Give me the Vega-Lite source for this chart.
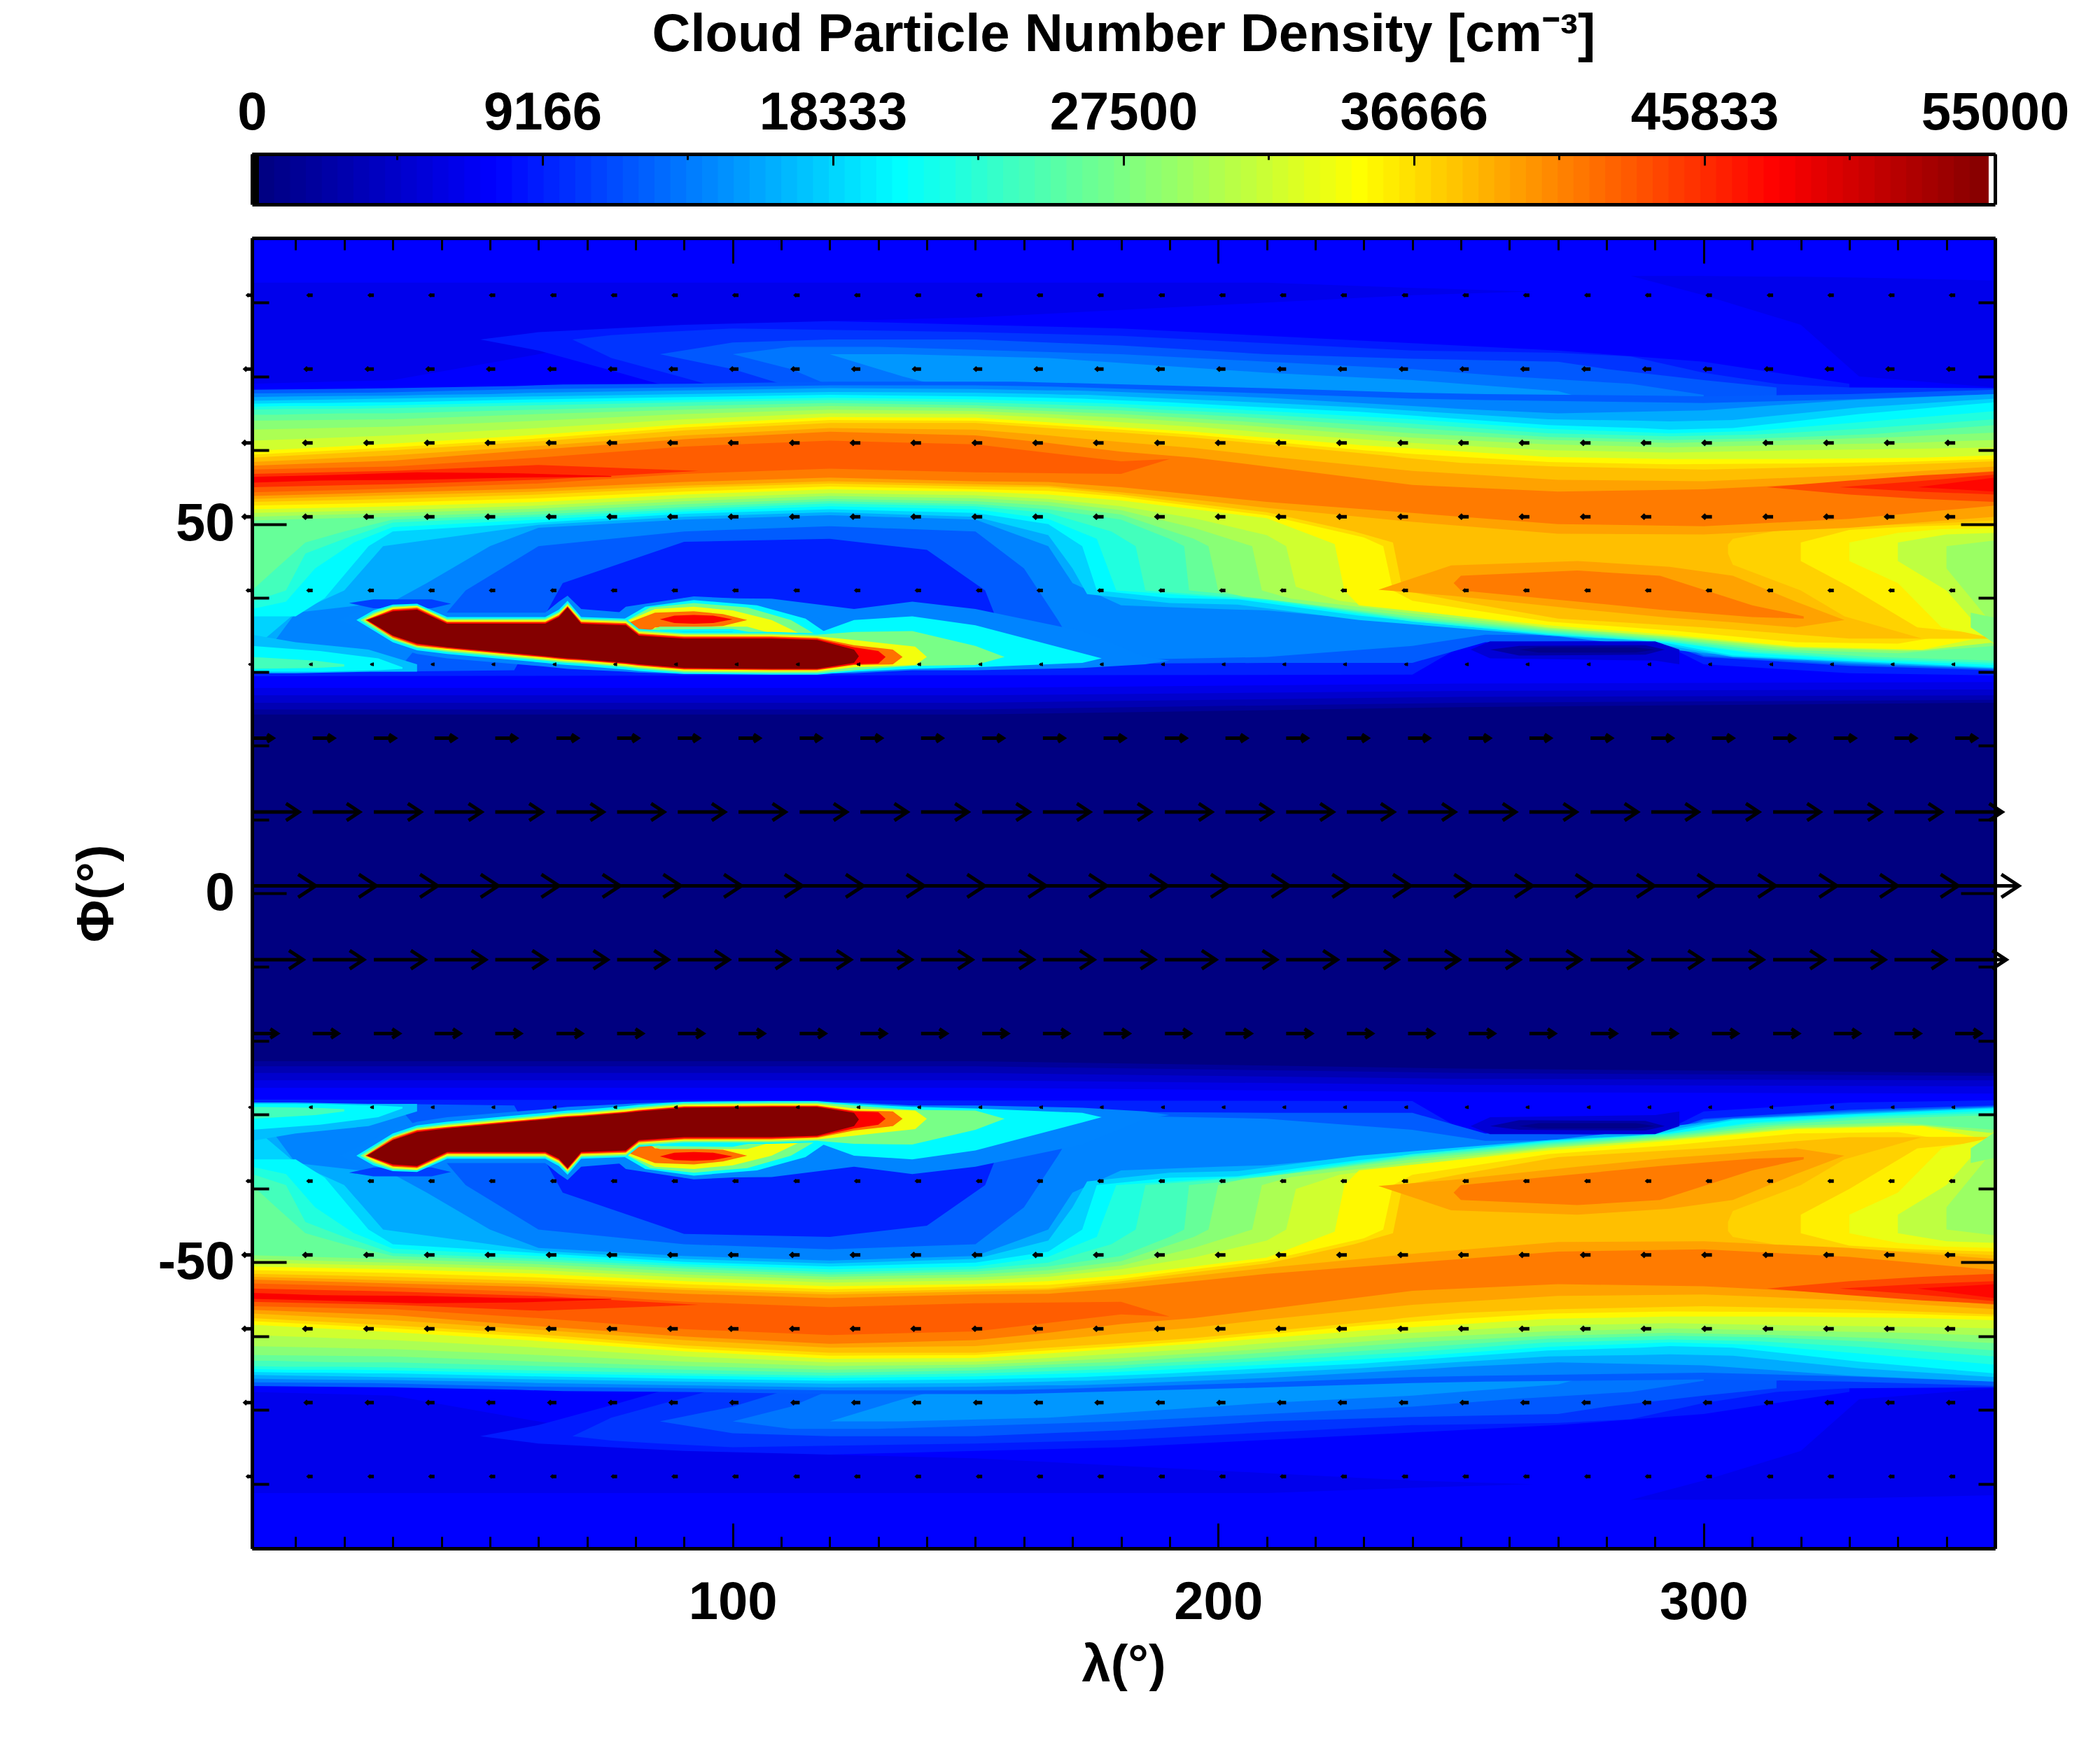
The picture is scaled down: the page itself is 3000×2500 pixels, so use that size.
{"$schema":"https://vega.github.io/schema/vega-lite/v6.json","background":"white","padding":{"left":102,"top":11,"right":0,"bottom":0},"spacing":43,
"config":{"view":{"stroke":null},"axis":{"grid":false,"labelFont":"Liberation Sans","titleFont":"Liberation Sans","labelFontWeight":"bold","titleFontWeight":"bold","labelFontSize":76,"titleFontSize":74,"labelColor":"black","titleColor":"black","tickColor":"black","domainColor":"black","domainWidth":5,"labelOverlap":false,"labelBound":false,"labelFlush":false,"labelLimit":1000,"format":"d"}},
"datasets":{
"bands":[
{"g":7400,"x":1,"a":91,"b":0.7},{"g":7400,"x":360,"a":91,"b":0.7},
{"g":6300,"x":1,"a":82.7,"b":69},{"g":6300,"x":30,"a":82.7,"b":69.5},{"g":6300,"x":60,"a":82.7,"b":73},{"g":6300,"x":90,"a":82.7,"b":76.5},{"g":6300,"x":120,"a":82.7,"b":77.5},{"g":6300,"x":150,"a":82.7,"b":78},{"g":6300,"x":180,"a":82.7,"b":79},{"g":6300,"x":210,"a":82.7,"b":80},{"g":6300,"x":240,"a":82,"b":81},{"g":6300,"x":265,"a":81.5,"b":81.5},
{"g":6301,"x":285,"a":83.6,"b":83.6},{"g":6301,"x":300,"a":83.6,"b":81},{"g":6301,"x":320,"a":83.5,"b":77},{"g":6301,"x":332,"a":83.4,"b":70},{"g":6301,"x":360,"a":83,"b":68.5},
{"g":8700,"x":48,"a":75,"b":75},{"g":8700,"x":60,"a":76,"b":73.5},{"g":8700,"x":75,"a":76.5,"b":70.8},{"g":8700,"x":90,"a":77,"b":68},{"g":8700,"x":120,"a":77.5,"b":68},{"g":8700,"x":150,"a":77,"b":68},{"g":8700,"x":180,"a":76.5,"b":68},{"g":8700,"x":210,"a":75.5,"b":68},{"g":8700,"x":240,"a":74.5,"b":68},{"g":8700,"x":270,"a":73.5,"b":67},{"g":8700,"x":300,"a":72,"b":67},{"g":8700,"x":315,"a":70.5,"b":67},{"g":8700,"x":330,"a":69,"b":67},
{"g":10000,"x":67,"a":75,"b":75},{"g":10000,"x":75,"a":75.6,"b":72.5},{"g":10000,"x":85,"a":76,"b":70.7},{"g":10000,"x":100,"a":76.5,"b":68},{"g":10000,"x":150,"a":76,"b":67},{"g":10000,"x":180,"a":75.5,"b":67},{"g":10000,"x":210,"a":74.5,"b":66},{"g":10000,"x":240,"a":73.5,"b":66},{"g":10000,"x":270,"a":73.2,"b":65},{"g":10000,"x":285,"a":72.7,"b":65},{"g":10000,"x":300,"a":70.5,"b":65},{"g":10000,"x":315,"a":69,"b":65},{"g":10000,"x":330,"a":68.5,"b":65},{"g":10000,"x":360,"a":68.4,"b":66},
{"g":11800,"x":85,"a":73,"b":73},{"g":11800,"x":100,"a":74.6,"b":71},{"g":11800,"x":120,"a":75,"b":67},{"g":11800,"x":150,"a":75,"b":66},{"g":11800,"x":180,"a":74.2,"b":66},{"g":11800,"x":210,"a":73,"b":65},{"g":11800,"x":240,"a":72.4,"b":65},{"g":11800,"x":270,"a":72,"b":64},{"g":11800,"x":280,"a":71,"b":64},{"g":11800,"x":300,"a":69.5,"b":64},{"g":11800,"x":315,"a":68.5,"b":64},
{"g":13300,"x":100,"a":73,"b":73},{"g":13300,"x":112,"a":74,"b":71},{"g":13300,"x":130,"a":74,"b":66},{"g":13300,"x":180,"a":73,"b":65},{"g":13300,"x":210,"a":72,"b":65},{"g":13300,"x":240,"a":71,"b":64},{"g":13300,"x":260,"a":70,"b":64},{"g":13300,"x":285,"a":69,"b":64},{"g":13300,"x":300,"a":67.5,"b":64},
{"g":15000,"x":120,"a":73,"b":73},{"g":15000,"x":135,"a":73,"b":70},{"g":15000,"x":165,"a":72.5,"b":65},{"g":15000,"x":210,"a":70.5,"b":65},{"g":15000,"x":240,"a":69.5,"b":64},{"g":15000,"x":270,"a":68,"b":64},{"g":15000,"x":287,"a":65,"b":65},
{"g":6000,"x":1,"a":27.8,"b":0.7},{"g":6000,"x":150,"a":27.8,"b":0.7},{"g":6000,"x":250,"a":28.4,"b":0.7},{"g":6000,"x":360,"a":28.6,"b":0.7},
{"g":4500,"x":1,"a":26.8,"b":0.7},{"g":4500,"x":150,"a":26.8,"b":0.7},{"g":4500,"x":250,"a":27.4,"b":0.7},{"g":4500,"x":360,"a":27.6,"b":0.7},
{"g":3000,"x":1,"a":25.8,"b":0.7},{"g":3000,"x":150,"a":25.8,"b":0.7},{"g":3000,"x":250,"a":26.6,"b":0.7},{"g":3000,"x":360,"a":26.8,"b":0.7},
{"g":1500,"x":1,"a":24.9,"b":0.7},{"g":1500,"x":150,"a":24.9,"b":0.7},{"g":1500,"x":250,"a":25.8,"b":0.7},{"g":1500,"x":360,"a":26.2,"b":0.7},
{"g":0,"x":1,"a":24.2,"b":0.7},{"g":0,"x":150,"a":24.2,"b":0.7},{"g":0,"x":250,"a":25.2,"b":0.7},{"g":0,"x":360,"a":25.8,"b":0.7},
{"g":9000,"x":1,"a":52,"b":29.4},{"g":9000,"x":240,"a":52,"b":29.6},{"g":9000,"x":252,"a":52,"b":34.2},{"g":9000,"x":290,"a":52,"b":34.3},{"g":9000,"x":300,"a":52,"b":31},{"g":9000,"x":330,"a":52,"b":29.8},{"g":9000,"x":360,"a":52,"b":29.5},
{"g":12000,"x":1,"a":68.2,"b":29.9},{"g":12000,"x":30,"a":68.4,"b":30},{"g":12000,"x":55,"a":68.7,"b":30.2},{"g":12000,"x":65,"a":68.9,"b":42},{"g":12000,"x":90,"a":69,"b":47.6},{"g":12000,"x":120,"a":69.3,"b":48},{"g":12000,"x":140,"a":69.3,"b":46.5},{"g":12000,"x":152,"a":69.3,"b":41},{"g":12000,"x":158,"a":69.3,"b":31},{"g":12000,"x":210,"a":68.4,"b":31.2},{"g":12000,"x":240,"a":67.8,"b":31.2},{"g":12000,"x":255,"a":67.6,"b":34},{"g":12000,"x":290,"a":67.4,"b":34.2},{"g":12000,"x":300,"a":67.3,"b":32},{"g":12000,"x":330,"a":67.6,"b":30.8},{"g":12000,"x":360,"a":68.2,"b":30.2},
{"g":14000,"x":1,"a":67.7,"b":30},{"g":14000,"x":25,"a":67.8,"b":30},{"g":14000,"x":32,"a":67.9,"b":31},{"g":14000,"x":45,"a":68.1,"b":41},{"g":14000,"x":60,"a":68.3,"b":47},{"g":14000,"x":90,"a":68.5,"b":49},{"g":14000,"x":120,"a":68.8,"b":49.7},{"g":14000,"x":150,"a":68.8,"b":49},{"g":14000,"x":160,"a":68.7,"b":44},{"g":14000,"x":167,"a":68.6,"b":37},{"g":14000,"x":172,"a":68.5,"b":31.5},{"g":14000,"x":210,"a":67.7,"b":32},{"g":14000,"x":240,"a":67,"b":33.5},{"g":14000,"x":255,"a":66.8,"b":35},{"g":14000,"x":290,"a":66.5,"b":34.8},{"g":14000,"x":300,"a":66.4,"b":32.2},{"g":14000,"x":330,"a":66.9,"b":31},{"g":14000,"x":360,"a":67.6,"b":30.4},
{"g":16000,"x":1,"a":67.2,"b":30},{"g":16000,"x":10,"a":67.3,"b":38},{"g":16000,"x":30,"a":67.4,"b":39.5},{"g":16000,"x":37,"a":67.5,"b":42},{"g":16000,"x":50,"a":67.6,"b":47},{"g":16000,"x":60,"a":67.8,"b":49.5},{"g":16000,"x":90,"a":68.1,"b":50.6},{"g":16000,"x":120,"a":68.4,"b":51.2},{"g":16000,"x":150,"a":68.3,"b":50.6},{"g":16000,"x":165,"a":68.1,"b":47},{"g":16000,"x":170,"a":68.1,"b":42},{"g":16000,"x":180,"a":67.9,"b":39},{"g":16000,"x":200,"a":67.4,"b":38.5},{"g":16000,"x":210,"a":67.1,"b":38.3},{"g":16000,"x":240,"a":66,"b":36.5},{"g":16000,"x":250,"a":65.6,"b":36},{"g":16000,"x":270,"a":65,"b":34.8},{"g":16000,"x":300,"a":65.4,"b":32.5},{"g":16000,"x":330,"a":66.8,"b":31.2},{"g":16000,"x":360,"a":67.6,"b":30.4},
{"g":18000,"x":1,"a":66.7,"b":33},{"g":18000,"x":10,"a":66.8,"b":38},{"g":18000,"x":20,"a":66.9,"b":41},{"g":18000,"x":28,"a":67,"b":47},{"g":18000,"x":60,"a":67.3,"b":49.9},{"g":18000,"x":90,"a":67.6,"b":51},{"g":18000,"x":120,"a":67.9,"b":51.6},{"g":18000,"x":150,"a":67.8,"b":51},{"g":18000,"x":165,"a":67.6,"b":48.5},{"g":18000,"x":170,"a":67.5,"b":44},{"g":18000,"x":173,"a":67.5,"b":40.5},{"g":18000,"x":190,"a":67,"b":39.3},{"g":18000,"x":204,"a":66.6,"b":39.1},{"g":18000,"x":229,"a":65.8,"b":37},{"g":18000,"x":268,"a":64.2,"b":34.9},{"g":18000,"x":287,"a":64,"b":34.2},{"g":18000,"x":293,"a":63.9,"b":33.5},{"g":18000,"x":306,"a":64.1,"b":32},{"g":18000,"x":332,"a":65.8,"b":31.3},{"g":18000,"x":360,"a":67,"b":30.5},
{"g":20000,"x":1,"a":66.3,"b":37.5},{"g":20000,"x":10,"a":66.4,"b":37.5},{"g":20000,"x":16,"a":66.4,"b":40},{"g":20000,"x":25,"a":66.5,"b":47},{"g":20000,"x":30,"a":66.5,"b":49},{"g":20000,"x":60,"a":66.9,"b":50.2},{"g":20000,"x":90,"a":67.2,"b":51.4},{"g":20000,"x":120,"a":67.5,"b":52},{"g":20000,"x":150,"a":67.3,"b":51.5},{"g":20000,"x":165,"a":67.1,"b":50},{"g":20000,"x":172,"a":67,"b":47},{"g":20000,"x":175,"a":66.9,"b":41},{"g":20000,"x":190,"a":66.5,"b":40},{"g":20000,"x":204,"a":66,"b":39.8},{"g":20000,"x":229,"a":65.2,"b":37.6},{"g":20000,"x":268,"a":63.4,"b":35},{"g":20000,"x":287,"a":63,"b":34.3},{"g":20000,"x":293,"a":62.8,"b":33.8},{"g":20000,"x":306,"a":63,"b":32.2},{"g":20000,"x":332,"a":64.9,"b":31.4},{"g":20000,"x":360,"a":66.5,"b":30.6},
{"g":22000,"x":1,"a":65.9,"b":38.5},{"g":22000,"x":8,"a":66,"b":39.5},{"g":22000,"x":14,"a":66,"b":44},{"g":22000,"x":22,"a":66,"b":47.5},{"g":22000,"x":30,"a":66.1,"b":49.6},{"g":22000,"x":60,"a":66.5,"b":50.6},{"g":22000,"x":90,"a":66.8,"b":51.7},{"g":22000,"x":120,"a":67.1,"b":52.4},{"g":22000,"x":150,"a":66.9,"b":52},{"g":22000,"x":165,"a":66.6,"b":50.7},{"g":22000,"x":175,"a":66.4,"b":48},{"g":22000,"x":179,"a":66.3,"b":41},{"g":22000,"x":195,"a":65.8,"b":40.3},{"g":22000,"x":210,"a":65.3,"b":39.6},{"g":22000,"x":240,"a":64.2,"b":36.8},{"g":22000,"x":268,"a":62.9,"b":35.1},{"g":22000,"x":293,"a":62.3,"b":34},{"g":22000,"x":310,"a":62.6,"b":32.5},{"g":22000,"x":332,"a":63.8,"b":31.6},{"g":22000,"x":360,"a":65.3,"b":30.9},
{"g":24000,"x":1,"a":65.5,"b":39.5},{"g":24000,"x":8,"a":65.6,"b":41},{"g":24000,"x":12,"a":65.6,"b":46},{"g":24000,"x":20,"a":65.6,"b":48},{"g":24000,"x":30,"a":65.7,"b":50.2},{"g":24000,"x":60,"a":66.1,"b":51},{"g":24000,"x":90,"a":66.5,"b":52},{"g":24000,"x":120,"a":66.8,"b":52.8},{"g":24000,"x":150,"a":66.5,"b":52.4},{"g":24000,"x":165,"a":66.2,"b":51.5},{"g":24000,"x":178,"a":65.9,"b":49},{"g":24000,"x":183,"a":65.7,"b":47},{"g":24000,"x":185,"a":65.6,"b":41},{"g":24000,"x":195,"a":65.3,"b":40.5},{"g":24000,"x":210,"a":64.8,"b":39.8},{"g":24000,"x":240,"a":63.6,"b":37},{"g":24000,"x":268,"a":62.3,"b":35.3},{"g":24000,"x":293,"a":61.9,"b":34.1},{"g":24000,"x":310,"a":62.1,"b":32.7},{"g":24000,"x":332,"a":62.9,"b":31.8},{"g":24000,"x":360,"a":64.2,"b":31.2},
{"g":26000,"x":1,"a":64.8,"b":41},{"g":26000,"x":6,"a":64.8,"b":44},{"g":26000,"x":12,"a":64.9,"b":47.5},{"g":26000,"x":20,"a":65,"b":49},{"g":26000,"x":30,"a":65,"b":50.6},{"g":26000,"x":60,"a":65.5,"b":51.3},{"g":26000,"x":90,"a":66,"b":52.3},{"g":26000,"x":120,"a":66.4,"b":53.1},{"g":26000,"x":150,"a":66.1,"b":52.7},{"g":26000,"x":165,"a":65.7,"b":52},{"g":26000,"x":180,"a":65.4,"b":50.6},{"g":26000,"x":190,"a":65,"b":48},{"g":26000,"x":193,"a":64.9,"b":47},{"g":26000,"x":194,"a":64.9,"b":41},{"g":26000,"x":205,"a":64.5,"b":40.3},{"g":26000,"x":240,"a":63,"b":37.2},{"g":26000,"x":268,"a":61.8,"b":35.5},{"g":26000,"x":293,"a":61.4,"b":34.3},{"g":26000,"x":312,"a":61.6,"b":32.9},{"g":26000,"x":335,"a":62.2,"b":32},{"g":26000,"x":360,"a":63.4,"b":31.5},
{"g":28000,"x":1,"a":64,"b":50.5},{"g":28000,"x":30,"a":64.2,"b":51},{"g":28000,"x":60,"a":64.9,"b":51.7},{"g":28000,"x":90,"a":65.5,"b":52.7},{"g":28000,"x":120,"a":66,"b":53.4},{"g":28000,"x":150,"a":65.7,"b":53.1},{"g":28000,"x":165,"a":65.3,"b":52.5},{"g":28000,"x":180,"a":64.9,"b":51.3},{"g":28000,"x":195,"a":64.3,"b":48},{"g":28000,"x":198,"a":64.2,"b":47},{"g":28000,"x":200,"a":64.1,"b":41},{"g":28000,"x":205,"a":63.9,"b":40.2},{"g":28000,"x":240,"a":62.3,"b":37.5},{"g":28000,"x":268,"a":61.4,"b":35.7},{"g":28000,"x":293,"a":61,"b":34.5},{"g":28000,"x":315,"a":61.3,"b":33},{"g":28000,"x":340,"a":61.8,"b":32.5},{"g":28000,"x":360,"a":62.4,"b":33.5},
{"g":30000,"x":1,"a":62.8,"b":51},{"g":30000,"x":30,"a":63.2,"b":51.5},{"g":30000,"x":60,"a":64,"b":52.1},{"g":30000,"x":90,"a":64.9,"b":53.1},{"g":30000,"x":120,"a":65.5,"b":53.8},{"g":30000,"x":150,"a":65.3,"b":53.5},{"g":30000,"x":165,"a":64.9,"b":53},{"g":30000,"x":180,"a":64.4,"b":51.9},{"g":30000,"x":195,"a":63.8,"b":49.5},{"g":30000,"x":207,"a":63.3,"b":47},{"g":30000,"x":209,"a":63.2,"b":41},{"g":30000,"x":215,"a":62.9,"b":39.9},{"g":30000,"x":240,"a":61.7,"b":37.9},{"g":30000,"x":268,"a":60.8,"b":35.9},{"g":30000,"x":293,"a":60.4,"b":34.7},{"g":30000,"x":317,"a":60.7,"b":33.2},{"g":30000,"x":342,"a":61,"b":32.8},{"g":30000,"x":360,"a":61.4,"b":34},
{"g":32000,"x":1,"a":61.3,"b":51.5},{"g":32000,"x":30,"a":62,"b":51.9},{"g":32000,"x":60,"a":63,"b":52.5},{"g":32000,"x":90,"a":64.2,"b":53.5},{"g":32000,"x":120,"a":65,"b":54.2},{"g":32000,"x":150,"a":64.9,"b":53.9},{"g":32000,"x":165,"a":64.4,"b":53.4},{"g":32000,"x":180,"a":63.8,"b":52.4},{"g":32000,"x":195,"a":63.2,"b":50.8},{"g":32000,"x":210,"a":62.4,"b":48.5},{"g":32000,"x":214,"a":62.2,"b":47},{"g":32000,"x":216,"a":62.1,"b":41.5},{"g":32000,"x":225,"a":61.7,"b":39.6},{"g":32000,"x":240,"a":61,"b":38.3},{"g":32000,"x":268,"a":60,"b":36},{"g":32000,"x":293,"a":59.7,"b":34.8},{"g":32000,"x":319,"a":60,"b":33.3},{"g":32000,"x":345,"a":60.2,"b":32.9},{"g":32000,"x":360,"a":60.4,"b":34},
{"g":35000,"x":1,"a":59.9,"b":52},{"g":35000,"x":30,"a":60.9,"b":52.4},{"g":35000,"x":60,"a":62.1,"b":53},{"g":35000,"x":90,"a":63.5,"b":54},{"g":35000,"x":120,"a":64.5,"b":54.7},{"g":35000,"x":150,"a":64.4,"b":54.4},{"g":35000,"x":165,"a":63.8,"b":54},{"g":35000,"x":180,"a":63.1,"b":53.2},{"g":35000,"x":195,"a":62.5,"b":52},{"g":35000,"x":210,"a":61.7,"b":50.8},{"g":35000,"x":224,"a":61,"b":47.3},{"g":35000,"x":226,"a":60.9,"b":41},{"g":35000,"x":229,"a":60.7,"b":39},{"g":35000,"x":268,"a":59.1,"b":36.3},{"g":35000,"x":293,"a":58.8,"b":35},{"g":35000,"x":319,"a":58.8,"b":33.4},{"g":35000,"x":345,"a":59,"b":33},{"g":35000,"x":360,"a":59.3,"b":35},
{"g":36500,"x":1,"a":59.4,"b":52.5},{"g":36500,"x":30,"a":60.4,"b":52.9},{"g":36500,"x":60,"a":61.6,"b":53.5},{"g":36500,"x":90,"a":63.1,"b":54.4},{"g":36500,"x":120,"a":64.1,"b":55.1},{"g":36500,"x":150,"a":64,"b":54.7},{"g":36500,"x":165,"a":63.4,"b":54.5},{"g":36500,"x":180,"a":62.8,"b":53.7},{"g":36500,"x":195,"a":62.1,"b":52.4},{"g":36500,"x":210,"a":61.2,"b":51.2},{"g":36500,"x":230,"a":60,"b":48.2},{"g":36500,"x":234,"a":59.8,"b":47},{"g":36500,"x":236,"a":59.7,"b":41},{"g":36500,"x":240,"a":59.5,"b":39.6},{"g":36500,"x":268,"a":58.4,"b":36.8},{"g":36500,"x":293,"a":58.1,"b":35.6},{"g":36500,"x":319,"a":58.2,"b":34},{"g":36500,"x":340,"a":58.4,"b":33.8},{"g":36500,"x":360,"a":58.8,"b":36},
{"g":38000,"x":1,"a":59,"b":53},{"g":38000,"x":30,"a":60,"b":53.4},{"g":38000,"x":60,"a":61.2,"b":54},{"g":38000,"x":90,"a":62.7,"b":54.9},{"g":38000,"x":120,"a":63.7,"b":55.5},{"g":38000,"x":150,"a":63.7,"b":55.1},{"g":38000,"x":165,"a":63,"b":55},{"g":38000,"x":180,"a":62.4,"b":54},{"g":38000,"x":195,"a":61.7,"b":52.8},{"g":38000,"x":210,"a":60.8,"b":51.6},{"g":38000,"x":228,"a":59.7,"b":49},{"g":38000,"x":236,"a":59.2,"b":47.5},{"g":38000,"x":238,"a":59,"b":41},{"g":38000,"x":250,"a":58.3,"b":39.5},{"g":38000,"x":270,"a":57.8,"b":37.2},{"g":38000,"x":300,"a":57.4,"b":36},{"g":38000,"x":330,"a":57.8,"b":34.5},{"g":38000,"x":360,"a":58.5,"b":34.5},
{"g":37000,"x":305,"a":47.2,"b":46},{"g":37000,"x":306,"a":48,"b":44.5},{"g":37000,"x":320,"a":49.7,"b":41},{"g":37000,"x":329,"a":49.8,"b":37.5},{"g":37000,"x":345,"a":50,"b":34.5},{"g":37000,"x":360,"a":50.5,"b":34.5},
{"g":35500,"x":320,"a":47.5,"b":45},{"g":35500,"x":330,"a":49.2,"b":41.5},{"g":35500,"x":344,"a":49.7,"b":36},{"g":35500,"x":360,"a":50,"b":35},
{"g":33500,"x":330,"a":47.5,"b":45},{"g":33500,"x":340,"a":48.8,"b":42},{"g":33500,"x":349,"a":49.3,"b":36},{"g":33500,"x":360,"a":49.5,"b":34.5},
{"g":31000,"x":340,"a":47.5,"b":45},{"g":31000,"x":350,"a":48.6,"b":41},{"g":31000,"x":360,"a":48.8,"b":33.5},
{"g":29000,"x":350,"a":47,"b":44},{"g":29000,"x":360,"a":47.8,"b":36},
{"g":27500,"x":355,"a":38,"b":36},{"g":27500,"x":360,"a":37.3,"b":33.8},
{"g":39500,"x":1,"a":58.4,"b":53.4},{"g":39500,"x":30,"a":59.3,"b":53.9},{"g":39500,"x":60,"a":60.6,"b":54.4},{"g":39500,"x":90,"a":62,"b":55.2},{"g":39500,"x":120,"a":63,"b":55.8},{"g":39500,"x":150,"a":62.8,"b":55.4},{"g":39500,"x":165,"a":62,"b":55.2},{"g":39500,"x":180,"a":61.1,"b":54.3},{"g":39500,"x":195,"a":60.3,"b":53.3},{"g":39500,"x":210,"a":59.2,"b":52.2},{"g":39500,"x":240,"a":57.2,"b":50.3},{"g":39500,"x":270,"a":56,"b":48.7},{"g":39500,"x":300,"a":55.8,"b":48.6},{"g":39500,"x":330,"a":56.6,"b":49.5},{"g":39500,"x":360,"a":57.8,"b":51},
{"g":41500,"x":1,"a":57.9,"b":53.8},{"g":41500,"x":30,"a":58.6,"b":54.3},{"g":41500,"x":60,"a":60.1,"b":54.8},{"g":41500,"x":90,"a":61.5,"b":55.7},{"g":41500,"x":120,"a":62.5,"b":56.3},{"g":41500,"x":150,"a":62,"b":55.8},{"g":41500,"x":165,"a":61,"b":55.7},{"g":41500,"x":180,"a":59.8,"b":55},{"g":41500,"x":195,"a":59,"b":54},{"g":41500,"x":210,"a":57.8,"b":53},{"g":41500,"x":240,"a":55.3,"b":51.5},{"g":41500,"x":270,"a":54.4,"b":50},{"g":41500,"x":300,"a":54.7,"b":49.7},{"g":41500,"x":330,"a":55.7,"b":50.7},{"g":41500,"x":360,"a":57.2,"b":52.5},
{"g":43000,"x":1,"a":57.4,"b":54.3},{"g":43000,"x":30,"a":57.8,"b":54.8},{"g":43000,"x":60,"a":59,"b":55.5},{"g":43000,"x":90,"a":60.5,"b":56.8},{"g":43000,"x":120,"a":61.3,"b":57.5},{"g":43000,"x":150,"a":60.8,"b":57},{"g":43000,"x":180,"a":58.5,"b":56.8},{"g":43000,"x":190,"a":58.8,"b":58.8},
{"g":44001,"x":313,"a":55,"b":55},{"g":44001,"x":330,"a":55.9,"b":54},{"g":44001,"x":345,"a":56.6,"b":53.4},{"g":44001,"x":360,"a":57.1,"b":53},
{"g":45500,"x":1,"a":56.8,"b":55},{"g":45500,"x":30,"a":57.2,"b":55.4},{"g":45500,"x":60,"a":58,"b":56},{"g":45500,"x":93,"a":57.2,"b":57.2},
{"g":46001,"x":328,"a":55,"b":55},{"g":46001,"x":344,"a":55.8,"b":54.4},{"g":46001,"x":360,"a":56.7,"b":54},
{"g":48000,"x":1,"a":56.4,"b":55.6},{"g":48000,"x":15,"a":56.6,"b":55.9},{"g":48000,"x":35,"a":57,"b":56},{"g":48000,"x":55,"a":56.9,"b":56.3},{"g":48000,"x":75,"a":56.5,"b":56.4},
{"g":47500,"x":344,"a":55,"b":55},{"g":47500,"x":360,"a":56.3,"b":54.4},
{"g":39501,"x":233,"a":41.1,"b":41.1},{"g":39501,"x":248,"a":44.4,"b":40.3},{"g":39501,"x":274,"a":45,"b":38.5},{"g":39501,"x":293,"a":44.2,"b":37.3},{"g":39501,"x":306,"a":43,"b":36.7},{"g":39501,"x":319,"a":39.5,"b":36},{"g":39501,"x":329,"a":37,"b":37},
{"g":41501,"x":248.5,"a":42,"b":42},{"g":41501,"x":250,"a":43,"b":41},{"g":41501,"x":274,"a":43.7,"b":39.5},{"g":41501,"x":291,"a":43,"b":38.4},{"g":41501,"x":310,"a":39,"b":37.4},{"g":41501,"x":320.6,"a":37.5,"b":37.2},
{"g":5000,"x":252,"a":33,"b":33},{"g":5000,"x":256,"a":34.1,"b":31.8},{"g":5000,"x":290,"a":34.1,"b":31.5},{"g":5000,"x":295,"a":33,"b":31},
{"g":2000,"x":256,"a":33,"b":33},{"g":2000,"x":262,"a":33.5,"b":32.2},{"g":2000,"x":288,"a":33.6,"b":32.3},{"g":2000,"x":292,"a":33,"b":33},
{"g":600,"x":262,"a":33,"b":33},{"g":600,"x":266,"a":33.3,"b":32.6},{"g":600,"x":286,"a":33.3,"b":32.6},{"g":600,"x":290,"a":33,"b":33},
{"g":17000,"x":1,"a":35,"b":29.8},{"g":17000,"x":10,"a":34,"b":29.8},{"g":17000,"x":25,"a":33,"b":30},{"g":17000,"x":35,"a":31,"b":30},
{"g":20001,"x":1,"a":33.5,"b":30},{"g":20001,"x":15,"a":32.8,"b":30},{"g":20001,"x":27,"a":31.8,"b":30.2},{"g":20001,"x":32,"a":30.6,"b":30.4},
{"g":24001,"x":1,"a":32,"b":30.4},{"g":24001,"x":14,"a":31.5,"b":30.5},{"g":24001,"x":20,"a":31,"b":30.7},
{"g":14002,"x":19,"a":37,"b":37},{"g":14002,"x":24,"a":38.5,"b":35.5},{"g":14002,"x":30,"a":39.5,"b":33.4},{"g":14002,"x":35,"a":39.8,"b":32.4},{"g":14002,"x":41.2,"a":38,"b":31.8},{"g":14002,"x":61.4,"a":38,"b":30.7},{"g":14002,"x":64.2,"a":39.5,"b":30.5},{"g":14002,"x":66,"a":40.3,"b":30.4},{"g":14002,"x":68.8,"a":38.5,"b":30.3},{"g":14002,"x":78,"a":38,"b":30},{"g":14002,"x":80.7,"a":38,"b":29.9},{"g":14002,"x":90,"a":40,"b":29.7},{"g":14002,"x":108,"a":39.9,"b":29.7},{"g":14002,"x":125,"a":38.5,"b":29.8},{"g":14002,"x":137,"a":39.5,"b":30.2},{"g":14002,"x":150,"a":38.5,"b":30.2},{"g":14002,"x":172,"a":35.5,"b":30.5},{"g":14002,"x":185,"a":32,"b":31},{"g":14002,"x":190,"a":31.5,"b":31.5},
{"g":10500,"x":21,"a":39.3,"b":39.3},{"g":10500,"x":26,"a":39.8,"b":38.6},{"g":10500,"x":38,"a":39.8,"b":38.6},{"g":10500,"x":42,"a":39.2,"b":39.2},
{"g":14003,"x":72,"a":35.5,"b":34.6},{"g":14003,"x":78,"a":38.8,"b":34.6},{"g":14003,"x":92,"a":40.2,"b":34.6},{"g":14003,"x":105,"a":39.8,"b":34.6},{"g":14003,"x":118,"a":37.2,"b":34.4},{"g":14003,"x":125,"a":34,"b":33},
{"g":20003,"x":76,"a":36.5,"b":34.6},{"g":20003,"x":82,"a":38.8,"b":34.6},{"g":20003,"x":92,"a":39.7,"b":34.6},{"g":20003,"x":105,"a":39,"b":34.6},{"g":20003,"x":115,"a":37.2,"b":34.5},{"g":20003,"x":121,"a":34.5,"b":34},
{"g":27002,"x":77,"a":36.5,"b":34.7},{"g":27002,"x":83,"a":38.7,"b":34.7},{"g":27002,"x":92,"a":39.3,"b":34.7},{"g":27002,"x":103,"a":38.7,"b":34.7},{"g":27002,"x":112,"a":37,"b":34.7},{"g":27002,"x":118,"a":34.7,"b":34.6},
{"g":34001,"x":78,"a":36.8,"b":34.8},{"g":34001,"x":84,"a":38.5,"b":34.8},{"g":34001,"x":92,"a":38.8,"b":34.8},{"g":34001,"x":100,"a":38.3,"b":34.8},{"g":34001,"x":108,"a":37,"b":34.8},{"g":34001,"x":115,"a":34.8,"b":34.7},
{"g":42001,"x":78,"a":36.5,"b":34.9},{"g":42001,"x":82,"a":37.5,"b":34.9},{"g":42001,"x":84,"a":38,"b":36},{"g":42001,"x":92,"a":38.2,"b":36},{"g":42001,"x":98,"a":37.8,"b":36.2},{"g":42001,"x":103,"a":37,"b":37},
{"g":48001,"x":85,"a":37.1,"b":37.1},{"g":48001,"x":88,"a":37.6,"b":36.6},{"g":48001,"x":92,"a":37.7,"b":36.5},{"g":48001,"x":96,"a":37.6,"b":36.6},{"g":48001,"x":100,"a":37.1,"b":37.1},
{"g":27003,"x":82,"a":35.4,"b":35},{"g":27003,"x":85,"a":36.1,"b":34.7},{"g":27003,"x":103,"a":36.1,"b":34.7},{"g":27003,"x":108,"a":35.2,"b":34.8},
{"g":20004,"x":85,"a":35.7,"b":34.8},{"g":20004,"x":100,"a":35.8,"b":34.8},{"g":20004,"x":104,"a":35.3,"b":35},
{"g":12500,"x":87,"a":35.4,"b":35},{"g":12500,"x":100,"a":35.4,"b":35},
{"g":20002,"x":22.5,"a":37,"b":37},{"g":20002,"x":26,"a":38.3,"b":35.6},{"g":20002,"x":30,"a":39.1,"b":34},{"g":20002,"x":35,"a":39.2,"b":32.9},{"g":20002,"x":41.2,"a":37.4,"b":32.4},{"g":20002,"x":61.4,"a":37.4,"b":31.2},{"g":20002,"x":64.2,"a":38.4,"b":31},{"g":20002,"x":66,"a":39.6,"b":30.9},{"g":20002,"x":68.8,"a":37.4,"b":30.8},{"g":20002,"x":78,"a":37.2,"b":30.3},{"g":20002,"x":80.7,"a":35.8,"b":30.1},{"g":20002,"x":90,"a":35.4,"b":29.7},{"g":20002,"x":108,"a":35.4,"b":29.6},{"g":20002,"x":117.4,"a":35.2,"b":29.6},{"g":20002,"x":125,"a":37,"b":30},{"g":20002,"x":137,"a":37.5,"b":30.4},{"g":20002,"x":150,"a":36.3,"b":30.6},{"g":20002,"x":172,"a":32.5,"b":31.2},{"g":20002,"x":176,"a":31.8,"b":31.8},
{"g":27001,"x":23.3,"a":37,"b":37},{"g":27001,"x":26,"a":38,"b":35.9},{"g":27001,"x":30,"a":38.9,"b":34.3},{"g":27001,"x":35,"a":39,"b":33.2},{"g":27001,"x":41.2,"a":37.2,"b":32.7},{"g":27001,"x":61.4,"a":37.2,"b":31.5},{"g":27001,"x":64.2,"a":38.1,"b":31.3},{"g":27001,"x":66,"a":39.3,"b":31.2},{"g":27001,"x":68.8,"a":37.2,"b":31.1},{"g":27001,"x":78,"a":37,"b":30.6},{"g":27001,"x":80.7,"a":35.6,"b":30.4},{"g":27001,"x":90,"a":35.2,"b":29.9},{"g":27001,"x":108,"a":35.2,"b":29.8},{"g":27001,"x":117.4,"a":35,"b":29.8},{"g":27001,"x":125,"a":35.4,"b":30.2},{"g":27001,"x":137,"a":35.5,"b":30.8},{"g":27001,"x":150,"a":33.5,"b":30.9},{"g":27001,"x":156,"a":32,"b":32},
{"g":34002,"x":24,"a":37,"b":37},{"g":34002,"x":26.5,"a":37.9,"b":36},{"g":34002,"x":30,"a":38.7,"b":34.5},{"g":34002,"x":35,"a":38.9,"b":33.4},{"g":34002,"x":41.2,"a":37,"b":32.9},{"g":34002,"x":61.4,"a":37,"b":31.7},{"g":34002,"x":64.2,"a":37.9,"b":31.5},{"g":34002,"x":66,"a":39.1,"b":31.4},{"g":34002,"x":68.8,"a":37,"b":31.3},{"g":34002,"x":78,"a":36.8,"b":30.8},{"g":34002,"x":80.7,"a":35.4,"b":30.6},{"g":34002,"x":90,"a":35,"b":30.1},{"g":34002,"x":108,"a":35,"b":30},{"g":34002,"x":117.4,"a":34.8,"b":30},{"g":34002,"x":125,"a":34.3,"b":30.6},{"g":34002,"x":137.6,"a":33.4,"b":30.9},{"g":34002,"x":140,"a":32,"b":32},
{"g":42000,"x":24.3,"a":37,"b":37},{"g":42000,"x":30,"a":38.5,"b":34.6},{"g":42000,"x":35,"a":38.7,"b":33.5},{"g":42000,"x":41.2,"a":36.8,"b":33.1},{"g":42000,"x":61.4,"a":36.8,"b":31.9},{"g":42000,"x":64.2,"a":37.7,"b":31.7},{"g":42000,"x":66,"a":38.9,"b":31.6},{"g":42000,"x":68.8,"a":36.8,"b":31.5},{"g":42000,"x":78,"a":36.6,"b":31},{"g":42000,"x":80.7,"a":35.2,"b":30.8},{"g":42000,"x":90,"a":34.8,"b":30.3},{"g":42000,"x":108,"a":34.8,"b":30.2},{"g":42000,"x":117.4,"a":34.6,"b":30.2},{"g":42000,"x":125,"a":33.6,"b":30.9},{"g":42000,"x":133,"a":33,"b":31},{"g":42000,"x":135,"a":32,"b":32},
{"g":48002,"x":24.5,"a":37,"b":37},{"g":48002,"x":30,"a":38.35,"b":34.8},{"g":48002,"x":35,"a":38.55,"b":33.65},{"g":48002,"x":41.2,"a":36.65,"b":33.2},{"g":48002,"x":61.4,"a":36.65,"b":32},{"g":48002,"x":64.2,"a":37.55,"b":31.8},{"g":48002,"x":66,"a":38.8,"b":31.7},{"g":48002,"x":68.8,"a":36.65,"b":31.6},{"g":48002,"x":78,"a":36.45,"b":31.1},{"g":48002,"x":80.7,"a":35.05,"b":30.9},{"g":48002,"x":90,"a":34.65,"b":30.4},{"g":48002,"x":108,"a":34.65,"b":30.3},{"g":48002,"x":117.4,"a":34.45,"b":30.3},{"g":48002,"x":125,"a":33.3,"b":31},{"g":48002,"x":130,"a":32.8,"b":31.1},{"g":48002,"x":131.5,"a":32,"b":32},
{"g":54500,"x":24.7,"a":37,"b":37},{"g":54500,"x":30,"a":38.2,"b":34.9},{"g":54500,"x":35,"a":38.4,"b":33.8},{"g":54500,"x":41.2,"a":36.5,"b":33.3},{"g":54500,"x":61.4,"a":36.5,"b":32.1},{"g":54500,"x":64.2,"a":37.4,"b":31.9},{"g":54500,"x":66,"a":38.7,"b":31.8},{"g":54500,"x":68.8,"a":36.5,"b":31.7},{"g":54500,"x":78,"a":36.3,"b":31.2},{"g":54500,"x":80.7,"a":34.9,"b":31},{"g":54500,"x":90,"a":34.5,"b":30.5},{"g":54500,"x":108,"a":34.5,"b":30.4},{"g":54500,"x":117.4,"a":34.3,"b":30.4},{"g":54500,"x":125,"a":33,"b":31.2},{"g":54500,"x":126,"a":32.1,"b":32.1}
],
"east":[
{"x":1,"y":1,"u":13.1},{"x":13.5,"y":1,"u":13.1},{"x":26.1,"y":1,"u":13.1},{"x":38.6,"y":1,"u":13.1},{"x":51.1,"y":1,"u":13.1},{"x":63.7,"y":1,"u":13.1},{"x":76.2,"y":1,"u":13.1},{"x":88.7,"y":1,"u":13.1},{"x":101.2,"y":1,"u":13.1},{"x":113.8,"y":1,"u":13.1},{"x":126.3,"y":1,"u":13.1},{"x":138.8,"y":1,"u":13.1},{"x":151.4,"y":1,"u":13.1},{"x":163.9,"y":1,"u":13.1},{"x":176.4,"y":1,"u":13.1},{"x":189,"y":1,"u":13.1},{"x":201.5,"y":1,"u":13.1},{"x":214,"y":1,"u":13.1},{"x":226.5,"y":1,"u":13.1},{"x":239.1,"y":1,"u":13.1},{"x":251.6,"y":1,"u":13.1},{"x":264.1,"y":1,"u":13.1},{"x":276.7,"y":1,"u":13.1},{"x":289.2,"y":1,"u":13.1},{"x":301.7,"y":1,"u":13.1},{"x":314.3,"y":1,"u":13.1},{"x":326.8,"y":1,"u":13.1},{"x":339.3,"y":1,"u":13.1},{"x":351.8,"y":1,"u":13.1},
{"x":1,"y":11,"u":9.65},{"x":13.5,"y":11,"u":9.65},{"x":26.1,"y":11,"u":9.65},{"x":38.6,"y":11,"u":9.65},{"x":51.1,"y":11,"u":9.65},{"x":63.7,"y":11,"u":9.65},{"x":76.2,"y":11,"u":9.65},{"x":88.7,"y":11,"u":9.65},{"x":101.2,"y":11,"u":9.65},{"x":113.8,"y":11,"u":9.65},{"x":126.3,"y":11,"u":9.65},{"x":138.8,"y":11,"u":9.65},{"x":151.4,"y":11,"u":9.65},{"x":163.9,"y":11,"u":9.65},{"x":176.4,"y":11,"u":9.65},{"x":189,"y":11,"u":9.65},{"x":201.5,"y":11,"u":9.65},{"x":214,"y":11,"u":9.65},{"x":226.5,"y":11,"u":9.65},{"x":239.1,"y":11,"u":9.65},{"x":251.6,"y":11,"u":9.65},{"x":264.1,"y":11,"u":9.65},{"x":276.7,"y":11,"u":9.65},{"x":289.2,"y":11,"u":9.65},{"x":301.7,"y":11,"u":9.65},{"x":314.3,"y":11,"u":9.65},{"x":326.8,"y":11,"u":9.65},{"x":339.3,"y":11,"u":9.65},{"x":351.8,"y":11,"u":9.65},
{"x":1,"y":-9,"u":10.5},{"x":13.5,"y":-9,"u":10.5},{"x":26.1,"y":-9,"u":10.5},{"x":38.6,"y":-9,"u":10.5},{"x":51.1,"y":-9,"u":10.5},{"x":63.7,"y":-9,"u":10.5},{"x":76.2,"y":-9,"u":10.5},{"x":88.7,"y":-9,"u":10.5},{"x":101.2,"y":-9,"u":10.5},{"x":113.8,"y":-9,"u":10.5},{"x":126.3,"y":-9,"u":10.5},{"x":138.8,"y":-9,"u":10.5},{"x":151.4,"y":-9,"u":10.5},{"x":163.9,"y":-9,"u":10.5},{"x":176.4,"y":-9,"u":10.5},{"x":189,"y":-9,"u":10.5},{"x":201.5,"y":-9,"u":10.5},{"x":214,"y":-9,"u":10.5},{"x":226.5,"y":-9,"u":10.5},{"x":239.1,"y":-9,"u":10.5},{"x":251.6,"y":-9,"u":10.5},{"x":264.1,"y":-9,"u":10.5},{"x":276.7,"y":-9,"u":10.5},{"x":289.2,"y":-9,"u":10.5},{"x":301.7,"y":-9,"u":10.5},{"x":314.3,"y":-9,"u":10.5},{"x":326.8,"y":-9,"u":10.5},{"x":339.3,"y":-9,"u":10.5},{"x":351.8,"y":-9,"u":10.5},
{"x":1,"y":21,"u":4.3},{"x":13.5,"y":21,"u":4.3},{"x":26.1,"y":21,"u":4.3},{"x":38.6,"y":21,"u":4.3},{"x":51.1,"y":21,"u":4.3},{"x":63.7,"y":21,"u":4.3},{"x":76.2,"y":21,"u":4.3},{"x":88.7,"y":21,"u":4.3},{"x":101.2,"y":21,"u":4.3},{"x":113.8,"y":21,"u":4.3},{"x":126.3,"y":21,"u":4.3},{"x":138.8,"y":21,"u":4.3},{"x":151.4,"y":21,"u":4.3},{"x":163.9,"y":21,"u":4.3},{"x":176.4,"y":21,"u":4.3},{"x":189,"y":21,"u":4.3},{"x":201.5,"y":21,"u":4.3},{"x":214,"y":21,"u":4.3},{"x":226.5,"y":21,"u":4.3},{"x":239.1,"y":21,"u":4.3},{"x":251.6,"y":21,"u":4.3},{"x":264.1,"y":21,"u":4.3},{"x":276.7,"y":21,"u":4.3},{"x":289.2,"y":21,"u":4.3},{"x":301.7,"y":21,"u":4.3},{"x":314.3,"y":21,"u":4.3},{"x":326.8,"y":21,"u":4.3},{"x":339.3,"y":21,"u":4.3},{"x":351.8,"y":21,"u":4.3},
{"x":1,"y":-19,"u":5.2},{"x":13.5,"y":-19,"u":5.2},{"x":26.1,"y":-19,"u":5.2},{"x":38.6,"y":-19,"u":5.2},{"x":51.1,"y":-19,"u":5.2},{"x":63.7,"y":-19,"u":5.2},{"x":76.2,"y":-19,"u":5.2},{"x":88.7,"y":-19,"u":5.2},{"x":101.2,"y":-19,"u":5.2},{"x":113.8,"y":-19,"u":5.2},{"x":126.3,"y":-19,"u":5.2},{"x":138.8,"y":-19,"u":5.2},{"x":151.4,"y":-19,"u":5.2},{"x":163.9,"y":-19,"u":5.2},{"x":176.4,"y":-19,"u":5.2},{"x":189,"y":-19,"u":5.2},{"x":201.5,"y":-19,"u":5.2},{"x":214,"y":-19,"u":5.2},{"x":226.5,"y":-19,"u":5.2},{"x":239.1,"y":-19,"u":5.2},{"x":251.6,"y":-19,"u":5.2},{"x":264.1,"y":-19,"u":5.2},{"x":276.7,"y":-19,"u":5.2},{"x":289.2,"y":-19,"u":5.2},{"x":301.7,"y":-19,"u":5.2},{"x":314.3,"y":-19,"u":5.2},{"x":326.8,"y":-19,"u":5.2},{"x":339.3,"y":-19,"u":5.2},{"x":351.8,"y":-19,"u":5.2}
],
"west":[
{"x":1,"y":81,"u":0.8},{"x":13.5,"y":81,"u":0.8},{"x":26.1,"y":81,"u":0.8},{"x":38.6,"y":81,"u":0.8},{"x":51.1,"y":81,"u":0.8},{"x":63.7,"y":81,"u":0.8},{"x":76.2,"y":81,"u":0.8},{"x":88.7,"y":81,"u":0.8},{"x":101.2,"y":81,"u":0.8},{"x":113.8,"y":81,"u":0.8},{"x":126.3,"y":81,"u":0.8},{"x":138.8,"y":81,"u":0.8},{"x":151.4,"y":81,"u":0.8},{"x":163.9,"y":81,"u":0.8},{"x":176.4,"y":81,"u":0.8},{"x":189,"y":81,"u":0.8},{"x":201.5,"y":81,"u":0.8},{"x":214,"y":81,"u":0.8},{"x":226.5,"y":81,"u":0.8},{"x":239.1,"y":81,"u":0.8},{"x":251.6,"y":81,"u":0.8},{"x":264.1,"y":81,"u":0.8},{"x":276.7,"y":81,"u":0.8},{"x":289.2,"y":81,"u":0.8},{"x":301.7,"y":81,"u":0.8},{"x":314.3,"y":81,"u":0.8},{"x":326.8,"y":81,"u":0.8},{"x":339.3,"y":81,"u":0.8},{"x":351.8,"y":81,"u":0.8},
{"x":1,"y":71,"u":1.4},{"x":13.5,"y":71,"u":1.4},{"x":26.1,"y":71,"u":1.4},{"x":38.6,"y":71,"u":1.4},{"x":51.1,"y":71,"u":1.4},{"x":63.7,"y":71,"u":1.4},{"x":76.2,"y":71,"u":1.4},{"x":88.7,"y":71,"u":1.4},{"x":101.2,"y":71,"u":1.4},{"x":113.8,"y":71,"u":1.4},{"x":126.3,"y":71,"u":1.4},{"x":138.8,"y":71,"u":1.4},{"x":151.4,"y":71,"u":1.4},{"x":163.9,"y":71,"u":1.4},{"x":176.4,"y":71,"u":1.4},{"x":189,"y":71,"u":1.4},{"x":201.5,"y":71,"u":1.4},{"x":214,"y":71,"u":1.4},{"x":226.5,"y":71,"u":1.4},{"x":239.1,"y":71,"u":1.4},{"x":251.6,"y":71,"u":1.4},{"x":264.1,"y":71,"u":1.4},{"x":276.7,"y":71,"u":1.4},{"x":289.2,"y":71,"u":1.4},{"x":301.7,"y":71,"u":1.4},{"x":314.3,"y":71,"u":1.4},{"x":326.8,"y":71,"u":1.4},{"x":339.3,"y":71,"u":1.4},{"x":351.8,"y":71,"u":1.4},
{"x":1,"y":61,"u":1.7},{"x":13.5,"y":61,"u":1.7},{"x":26.1,"y":61,"u":1.7},{"x":38.6,"y":61,"u":1.7},{"x":51.1,"y":61,"u":1.7},{"x":63.7,"y":61,"u":1.7},{"x":76.2,"y":61,"u":1.7},{"x":88.7,"y":61,"u":1.7},{"x":101.2,"y":61,"u":1.7},{"x":113.8,"y":61,"u":1.7},{"x":126.3,"y":61,"u":1.7},{"x":138.8,"y":61,"u":1.7},{"x":151.4,"y":61,"u":1.7},{"x":163.9,"y":61,"u":1.7},{"x":176.4,"y":61,"u":1.7},{"x":189,"y":61,"u":1.7},{"x":201.5,"y":61,"u":1.7},{"x":214,"y":61,"u":1.7},{"x":226.5,"y":61,"u":1.7},{"x":239.1,"y":61,"u":1.7},{"x":251.6,"y":61,"u":1.7},{"x":264.1,"y":61,"u":1.7},{"x":276.7,"y":61,"u":1.7},{"x":289.2,"y":61,"u":1.7},{"x":301.7,"y":61,"u":1.7},{"x":314.3,"y":61,"u":1.7},{"x":326.8,"y":61,"u":1.7},{"x":339.3,"y":61,"u":1.7},{"x":351.8,"y":61,"u":1.7},
{"x":1,"y":51,"u":1.7},{"x":13.5,"y":51,"u":1.7},{"x":26.1,"y":51,"u":1.7},{"x":38.6,"y":51,"u":1.7},{"x":51.1,"y":51,"u":1.7},{"x":63.7,"y":51,"u":1.7},{"x":76.2,"y":51,"u":1.7},{"x":88.7,"y":51,"u":1.7},{"x":101.2,"y":51,"u":1.7},{"x":113.8,"y":51,"u":1.7},{"x":126.3,"y":51,"u":1.7},{"x":138.8,"y":51,"u":1.7},{"x":151.4,"y":51,"u":1.7},{"x":163.9,"y":51,"u":1.7},{"x":176.4,"y":51,"u":1.7},{"x":189,"y":51,"u":1.7},{"x":201.5,"y":51,"u":1.7},{"x":214,"y":51,"u":1.7},{"x":226.5,"y":51,"u":1.7},{"x":239.1,"y":51,"u":1.7},{"x":251.6,"y":51,"u":1.7},{"x":264.1,"y":51,"u":1.7},{"x":276.7,"y":51,"u":1.7},{"x":289.2,"y":51,"u":1.7},{"x":301.7,"y":51,"u":1.7},{"x":314.3,"y":51,"u":1.7},{"x":326.8,"y":51,"u":1.7},{"x":339.3,"y":51,"u":1.7},{"x":351.8,"y":51,"u":1.7},
{"x":1,"y":41,"u":0.8},{"x":13.5,"y":41,"u":0.8},{"x":26.1,"y":41,"u":0.8},{"x":38.6,"y":41,"u":0.8},{"x":51.1,"y":41,"u":0.8},{"x":63.7,"y":41,"u":0.8},{"x":76.2,"y":41,"u":0.8},{"x":88.7,"y":41,"u":0.8},{"x":101.2,"y":41,"u":0.8},{"x":113.8,"y":41,"u":0.8},{"x":126.3,"y":41,"u":0.8},{"x":138.8,"y":41,"u":0.8},{"x":151.4,"y":41,"u":0.8},{"x":163.9,"y":41,"u":0.8},{"x":176.4,"y":41,"u":0.8},{"x":189,"y":41,"u":0.8},{"x":201.5,"y":41,"u":0.8},{"x":214,"y":41,"u":0.8},{"x":226.5,"y":41,"u":0.8},{"x":239.1,"y":41,"u":0.8},{"x":251.6,"y":41,"u":0.8},{"x":264.1,"y":41,"u":0.8},{"x":276.7,"y":41,"u":0.8},{"x":289.2,"y":41,"u":0.8},{"x":301.7,"y":41,"u":0.8},{"x":314.3,"y":41,"u":0.8},{"x":326.8,"y":41,"u":0.8},{"x":339.3,"y":41,"u":0.8},{"x":351.8,"y":41,"u":0.8},
{"x":1,"y":31,"u":0.3},{"x":13.5,"y":31,"u":0.3},{"x":26.1,"y":31,"u":0.3},{"x":38.6,"y":31,"u":0.3},{"x":51.1,"y":31,"u":0.3},{"x":63.7,"y":31,"u":0.3},{"x":76.2,"y":31,"u":0.3},{"x":88.7,"y":31,"u":0.3},{"x":101.2,"y":31,"u":0.3},{"x":113.8,"y":31,"u":0.3},{"x":126.3,"y":31,"u":0.3},{"x":138.8,"y":31,"u":0.3},{"x":151.4,"y":31,"u":0.3},{"x":163.9,"y":31,"u":0.3},{"x":176.4,"y":31,"u":0.3},{"x":189,"y":31,"u":0.3},{"x":201.5,"y":31,"u":0.3},{"x":214,"y":31,"u":0.3},{"x":226.5,"y":31,"u":0.3},{"x":239.1,"y":31,"u":0.3},{"x":251.6,"y":31,"u":0.3},{"x":264.1,"y":31,"u":0.3},{"x":276.7,"y":31,"u":0.3},{"x":289.2,"y":31,"u":0.3},{"x":301.7,"y":31,"u":0.3},{"x":314.3,"y":31,"u":0.3},{"x":326.8,"y":31,"u":0.3},{"x":339.3,"y":31,"u":0.3},{"x":351.8,"y":31,"u":0.3}
],
"bar":[{"v":200,"w":730},{"v":700,"w":1230},{"v":1200,"w":1730},{"v":1700,"w":2230},{"v":2200,"w":2730},{"v":2700,"w":3230},{"v":3200,"w":3730},{"v":3700,"w":4230},{"v":4200,"w":4730},{"v":4700,"w":5230},{"v":5200,"w":5730},{"v":5700,"w":6230},{"v":6200,"w":6730},{"v":6700,"w":7230},{"v":7200,"w":7730},{"v":7700,"w":8230},{"v":8200,"w":8730},{"v":8700,"w":9230},{"v":9200,"w":9730},{"v":9700,"w":10230},{"v":10200,"w":10730},{"v":10700,"w":11230},{"v":11200,"w":11730},{"v":11700,"w":12230},{"v":12200,"w":12730},{"v":12700,"w":13230},{"v":13200,"w":13730},{"v":13700,"w":14230},{"v":14200,"w":14730},{"v":14700,"w":15230},{"v":15200,"w":15730},{"v":15700,"w":16230},{"v":16200,"w":16730},{"v":16700,"w":17230},{"v":17200,"w":17730},{"v":17700,"w":18230},{"v":18200,"w":18730},{"v":18700,"w":19230},{"v":19200,"w":19730},{"v":19700,"w":20230},{"v":20200,"w":20730},{"v":20700,"w":21230},{"v":21200,"w":21730},{"v":21700,"w":22230},{"v":22200,"w":22730},{"v":22700,"w":23230},{"v":23200,"w":23730},{"v":23700,"w":24230},{"v":24200,"w":24730},{"v":24700,"w":25230},{"v":25200,"w":25730},{"v":25700,"w":26230},{"v":26200,"w":26730},{"v":26700,"w":27230},{"v":27200,"w":27730},{"v":27700,"w":28230},{"v":28200,"w":28730},{"v":28700,"w":29230},{"v":29200,"w":29730},{"v":29700,"w":30230},{"v":30200,"w":30730},{"v":30700,"w":31230},{"v":31200,"w":31730},{"v":31700,"w":32230},{"v":32200,"w":32730},{"v":32700,"w":33230},{"v":33200,"w":33730},{"v":33700,"w":34230},{"v":34200,"w":34730},{"v":34700,"w":35230},{"v":35200,"w":35730},{"v":35700,"w":36230},{"v":36200,"w":36730},{"v":36700,"w":37230},{"v":37200,"w":37730},{"v":37700,"w":38230},{"v":38200,"w":38730},{"v":38700,"w":39230},{"v":39200,"w":39730},{"v":39700,"w":40230},{"v":40200,"w":40730},{"v":40700,"w":41230},{"v":41200,"w":41730},{"v":41700,"w":42230},{"v":42200,"w":42730},{"v":42700,"w":43230},{"v":43200,"w":43730},{"v":43700,"w":44230},{"v":44200,"w":44730},{"v":44700,"w":45230},{"v":45200,"w":45730},{"v":45700,"w":46230},{"v":46200,"w":46730},{"v":46700,"w":47230},{"v":47200,"w":47730},{"v":47700,"w":48230},{"v":48200,"w":48730},{"v":48700,"w":49230},{"v":49200,"w":49730},{"v":49700,"w":50230},{"v":50200,"w":50730},{"v":50700,"w":51230},{"v":51200,"w":51730},{"v":51700,"w":52230},{"v":52200,"w":52730},{"v":52700,"w":53230},{"v":53200,"w":53730},{"v":53700,"w":54230},{"v":54200,"w":54800}]
},
"vconcat":[
{"width":2490,"height":72,"layer":[
{"data":{"name":"bar"},"mark":{"type":"rect"},"encoding":{
"x":{"field":"v","type":"quantitative","scale":{"domain":[0,55000],"nice":false,"zero":false},"axis":{"zindex":1,"orient":"top","values":[0,9166,18333,27500,36666,45833,55000],"tickSize":-16,"tickWidth":3,"labelPadding":36,"title":"Cloud Particle Number Density [cm⁻³]","titlePadding":35,"titleFontSize":76}},
"x2":{"field":"w"},
"y":{"datum":0,"type":"quantitative","scale":{"domain":[0,1],"nice":false},"axis":{"zindex":1,"orient":"left","values":[],"title":null,"domainWidth":5,"labels":false,"ticks":false}},
"y2":{"datum":1},
"color":{"field":"v","type":"quantitative","scale":{"domain":[0,7400,20200,34700,47800,54700],"range":["#000080","#0000ff","#00ffff","#ffff00","#ff0000","#800000"],"interpolate":"rgb"},"legend":null}}},
{"data":{"values":[{"v":0,"w":220}]},"mark":{"type":"rect","color":"black"},"encoding":{
"x":{"field":"v","type":"quantitative","scale":{"domain":[0,55000],"nice":false,"zero":false},"axis":{"zindex":1,"orient":"top","values":[4583,13749,22916,32083,41249,50416],"tickSize":-8,"tickWidth":3,"labels":false,"title":null,"domain":true}},
"x2":{"field":"w"},
"y":{"datum":0,"type":"quantitative","scale":{"domain":[0,1],"nice":false},"axis":{"zindex":1,"orient":"right","values":[],"title":null,"labels":false,"ticks":false}},
"y2":{"datum":1}}},
{"data":{"values":[{"v":0}]},"mark":{"type":"point","opacity":0},"encoding":{
"x":{"field":"v","type":"quantitative","scale":{"domain":[0,55000],"nice":false,"zero":false},"axis":{"zindex":1,"orient":"bottom","values":[],"labels":false,"ticks":false,"title":null}},
"y":{"datum":0,"type":"quantitative","scale":{"domain":[0,1],"nice":false},"axis":null}}}
],"resolve":{"scale":{"x":"independent","y":"independent"},"axis":{"x":"independent","y":"independent"}}},
{"width":2490,"height":1872,"layer":[
{"data":{"name":"bands"},"mark":{"type":"area","orient":"vertical","interpolate":"linear","clip":true},"encoding":{
"x":{"field":"x","type":"quantitative","scale":{"domain":[1,360],"nice":false,"zero":false},"axis":null},
"y":{"field":"a","type":"quantitative","stack":null,"scale":{"domain":[-88.75,88.75],"nice":false,"zero":false},"axis":null},
"y2":{"field":"b"},
"color":{"field":"g","type":"quantitative","scale":{"domain":[0,7400,20200,34700,47800,54700],"range":["#000080","#0000ff","#00ffff","#ffff00","#ff0000","#800000"],"interpolate":"rgb"},"legend":null}}},
{"data":{"name":"bands"},"mark":{"type":"area","orient":"vertical","interpolate":"linear","clip":true},"encoding":{
"x":{"field":"x","type":"quantitative","scale":{"domain":[1,360],"nice":false,"zero":false},"axis":null},
"y":{"field":"a","type":"quantitative","stack":null,"scale":{"domain":[90.2,-87.3],"nice":false,"zero":false},"axis":null},
"y2":{"field":"b"},
"color":{"field":"g","type":"quantitative","scale":{"domain":[0,7400,20200,34700,47800,54700],"range":["#000080","#0000ff","#00ffff","#ffff00","#ff0000","#800000"],"interpolate":"rgb"},"legend":null}}},
{"data":{"name":"east"},"mark":{"type":"point","shape":"M0,0L2,0M1.45,-0.36L2,0L1.45,0.36","filled":false,"strokeWidth":5,"opacity":1,"color":"black"},"encoding":{
"x":{"field":"x","type":"quantitative","scale":{"domain":[1,360],"nice":false,"zero":false},"axis":null},
"y":{"field":"y","type":"quantitative","scale":{"domain":[-88.75,88.75],"nice":false,"zero":false},"axis":null},
"size":{"field":"u","type":"quantitative","scale":{"type":"pow","exponent":2,"domain":[0,13.1],"range":[0,8281]},"legend":null}}},
{"data":{"name":"west"},"mark":{"type":"point","shape":"M0,0L-2,0M-1.45,-0.5L-2,0L-1.45,0.5","filled":false,"strokeWidth":5,"opacity":1,"color":"black"},"encoding":{
"x":{"field":"x","type":"quantitative","scale":{"domain":[1,360],"nice":false,"zero":false},"axis":null},
"y":{"field":"y","type":"quantitative","scale":{"domain":[-88.75,88.75],"nice":false,"zero":false},"axis":null},
"size":{"field":"u","type":"quantitative","scale":{"type":"pow","exponent":2,"domain":[0,1.7],"range":[0,324]},"legend":null}}},
{"data":{"name":"west"},"mark":{"type":"point","shape":"M0,0L-2,0M-1.45,-0.5L-2,0L-1.45,0.5","filled":false,"strokeWidth":5,"opacity":1,"color":"black"},"encoding":{
"x":{"field":"x","type":"quantitative","scale":{"domain":[1,360],"nice":false,"zero":false},"axis":null},
"y":{"field":"y","type":"quantitative","scale":{"domain":[90.75,-86.75],"nice":false,"zero":false},"axis":null},
"size":{"field":"u","type":"quantitative","scale":{"type":"pow","exponent":2,"domain":[0,1.7],"range":[0,324]},"legend":null}}},
{"data":{"values":[{"x":1,"y":0}]},"mark":{"type":"point","opacity":0},"encoding":{
"x":{"field":"x","type":"quantitative","scale":{"domain":[1,360],"nice":false,"zero":false},"axis":{"zindex":1,"orient":"bottom","values":[100,200,300],"tickSize":-36,"tickWidth":3,"labelPadding":76,"title":"λ(°)","titlePadding":16}},
"y":{"field":"y","type":"quantitative","scale":{"domain":[-88.75,88.75],"nice":false,"zero":false},"axis":{"zindex":1,"orient":"left","values":[50,0,-50],"tickSize":-49,"tickWidth":4,"labelPadding":74,"labelExpr":"'' + datum.value","title":"Φ(°)","titlePadding":48}}}},
{"data":{"values":[{"x":1,"y":0}]},"mark":{"type":"point","opacity":0},"encoding":{
"x":{"field":"x","type":"quantitative","scale":{"domain":[1,360],"nice":false,"zero":false},"axis":{"zindex":1,"orient":"bottom","values":[10,20,30,40,50,60,70,80,90,110,120,130,140,150,160,170,180,190,210,220,230,240,250,260,270,280,290,310,320,330,340,350],"tickSize":-17,"tickWidth":3,"labels":false,"title":null}},
"y":{"field":"y","type":"quantitative","scale":{"domain":[-88.75,88.75],"nice":false,"zero":false},"axis":{"zindex":1,"orient":"left","values":[80,70,60,40,30,20,10,-10,-20,-30,-40,-60,-70,-80],"tickSize":-24,"tickWidth":4,"labels":false,"title":null}}}},
{"data":{"values":[{"x":1,"y":0}]},"mark":{"type":"point","opacity":0},"encoding":{
"x":{"field":"x","type":"quantitative","scale":{"domain":[1,360],"nice":false,"zero":false},"axis":{"zindex":1,"orient":"top","values":[100,200,300],"tickSize":-36,"tickWidth":3,"labels":false,"title":null}},
"y":{"field":"y","type":"quantitative","scale":{"domain":[-88.75,88.75],"nice":false,"zero":false},"axis":{"zindex":1,"orient":"right","values":[50,0,-50],"tickSize":-49,"tickWidth":4,"labels":false,"title":null}}}},
{"data":{"values":[{"x":1,"y":0}]},"mark":{"type":"point","opacity":0},"encoding":{
"x":{"field":"x","type":"quantitative","scale":{"domain":[1,360],"nice":false,"zero":false},"axis":{"zindex":1,"orient":"top","values":[10,20,30,40,50,60,70,80,90,110,120,130,140,150,160,170,180,190,210,220,230,240,250,260,270,280,290,310,320,330,340,350],"tickSize":-17,"tickWidth":3,"labels":false,"title":null}},
"y":{"field":"y","type":"quantitative","scale":{"domain":[-88.75,88.75],"nice":false,"zero":false},"axis":{"zindex":1,"orient":"right","values":[80,70,60,40,30,20,10,-10,-20,-30,-40,-60,-70,-80],"tickSize":-24,"tickWidth":4,"labels":false,"title":null}}}}
],"resolve":{"scale":{"x":"independent","y":"independent"},"axis":{"x":"independent","y":"independent"}}}
]}
